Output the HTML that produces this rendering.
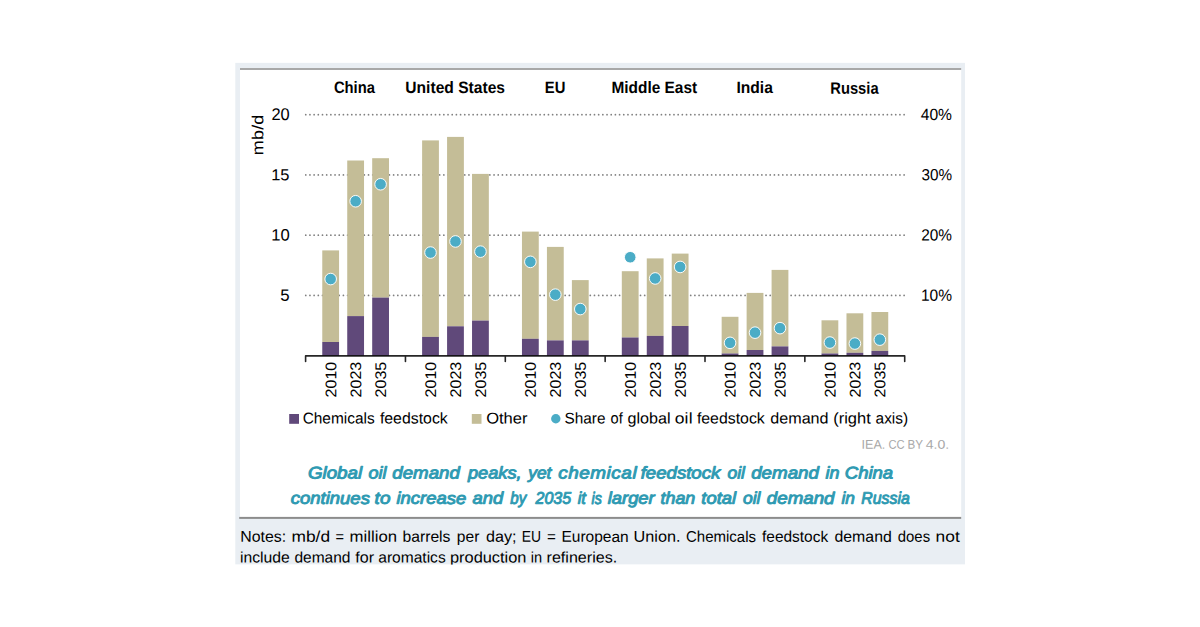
<!DOCTYPE html>
<html><head><meta charset="utf-8"><title>chart</title>
<style>
html,body{margin:0;padding:0;background:#fff;}
body{width:1200px;height:627px;overflow:hidden;position:relative;font-family:"Liberation Sans",sans-serif;}
svg{position:absolute;left:0;top:0;display:block;}
svg text{font-family:"Liberation Sans",sans-serif;}
</style></head><body>
<svg width="1200" height="627" viewBox="0 0 1200 627">
<rect x="235.3" y="62.85" width="729.7" height="501.75" fill="#E9EEF3"/>
<rect x="240" y="68" width="721.2" height="450.5" fill="#ffffff"/>
<rect x="240" y="68" width="721.2" height="2" fill="#a8a8a8"/>
<rect x="239.2" y="516.9" width="722" height="2" fill="#8c8c8c"/>
<line x1="305.75" x2="904.3" y1="295.45" y2="295.45" stroke="#808080" stroke-width="1.75" stroke-linecap="round" stroke-dasharray="0.01 4.1743"/>
<line x1="305.75" x2="904.3" y1="235.20" y2="235.20" stroke="#808080" stroke-width="1.75" stroke-linecap="round" stroke-dasharray="0.01 4.1743"/>
<line x1="305.75" x2="904.3" y1="174.95" y2="174.95" stroke="#808080" stroke-width="1.75" stroke-linecap="round" stroke-dasharray="0.01 4.1743"/>
<line x1="305.75" x2="904.3" y1="114.70" y2="114.70" stroke="#808080" stroke-width="1.75" stroke-linecap="round" stroke-dasharray="0.01 4.1743"/>
<rect x="322.26" y="250.40" width="16.8" height="91.60" fill="#C4BD97"/>
<rect x="322.26" y="342.00" width="16.8" height="13.70" fill="#60497A"/>
<rect x="347.23" y="160.50" width="16.8" height="155.60" fill="#C4BD97"/>
<rect x="347.23" y="316.10" width="16.8" height="39.60" fill="#60497A"/>
<rect x="372.19" y="158.20" width="16.8" height="139.40" fill="#C4BD97"/>
<rect x="372.19" y="297.60" width="16.8" height="58.10" fill="#60497A"/>
<rect x="422.11" y="140.40" width="16.8" height="196.50" fill="#C4BD97"/>
<rect x="422.11" y="336.90" width="16.8" height="18.80" fill="#60497A"/>
<rect x="447.08" y="136.90" width="16.8" height="189.40" fill="#C4BD97"/>
<rect x="447.08" y="326.30" width="16.8" height="29.40" fill="#60497A"/>
<rect x="472.04" y="173.90" width="16.8" height="146.70" fill="#C4BD97"/>
<rect x="472.04" y="320.60" width="16.8" height="35.10" fill="#60497A"/>
<rect x="521.96" y="231.60" width="16.8" height="107.20" fill="#C4BD97"/>
<rect x="521.96" y="338.80" width="16.8" height="16.90" fill="#60497A"/>
<rect x="546.93" y="246.90" width="16.8" height="93.50" fill="#C4BD97"/>
<rect x="546.93" y="340.40" width="16.8" height="15.30" fill="#60497A"/>
<rect x="571.89" y="280.10" width="16.8" height="60.30" fill="#C4BD97"/>
<rect x="571.89" y="340.40" width="16.8" height="15.30" fill="#60497A"/>
<rect x="621.81" y="271.20" width="16.8" height="66.30" fill="#C4BD97"/>
<rect x="621.81" y="337.50" width="16.8" height="18.20" fill="#60497A"/>
<rect x="646.77" y="258.40" width="16.8" height="77.50" fill="#C4BD97"/>
<rect x="646.77" y="335.90" width="16.8" height="19.80" fill="#60497A"/>
<rect x="671.74" y="253.60" width="16.8" height="72.40" fill="#C4BD97"/>
<rect x="671.74" y="326.00" width="16.8" height="29.70" fill="#60497A"/>
<rect x="721.66" y="316.80" width="16.8" height="36.70" fill="#C4BD97"/>
<rect x="721.66" y="353.50" width="16.8" height="2.20" fill="#60497A"/>
<rect x="746.62" y="292.90" width="16.8" height="57.10" fill="#C4BD97"/>
<rect x="746.62" y="350.00" width="16.8" height="5.70" fill="#60497A"/>
<rect x="771.59" y="269.90" width="16.8" height="76.50" fill="#C4BD97"/>
<rect x="771.59" y="346.40" width="16.8" height="9.30" fill="#60497A"/>
<rect x="821.51" y="320.30" width="16.8" height="33.20" fill="#C4BD97"/>
<rect x="821.51" y="353.50" width="16.8" height="2.20" fill="#60497A"/>
<rect x="846.48" y="313.30" width="16.8" height="39.50" fill="#C4BD97"/>
<rect x="846.48" y="352.80" width="16.8" height="2.90" fill="#60497A"/>
<rect x="871.44" y="312.00" width="16.8" height="38.90" fill="#C4BD97"/>
<rect x="871.44" y="350.90" width="16.8" height="4.80" fill="#60497A"/>
<path d="M305.60,361.40 V355.9 H904.70 V361.40 M405.45,355.9 V361.40 M505.30,355.9 V361.40 M605.15,355.9 V361.40 M705.00,355.9 V361.40 M804.85,355.9 V361.40" fill="none" stroke="#000" stroke-opacity="0.85" stroke-width="1.6" stroke-linejoin="round" stroke-linecap="round"/>
<circle cx="330.66" cy="279.05" r="5.8" fill="#4BACC6" stroke="#fff" stroke-opacity="0.95" stroke-width="1.0"/>
<circle cx="355.63" cy="201.25" r="5.8" fill="#4BACC6" stroke="#fff" stroke-opacity="0.95" stroke-width="1.0"/>
<circle cx="380.59" cy="184.25" r="5.8" fill="#4BACC6" stroke="#fff" stroke-opacity="0.95" stroke-width="1.0"/>
<circle cx="430.51" cy="252.55" r="5.8" fill="#4BACC6" stroke="#fff" stroke-opacity="0.95" stroke-width="1.0"/>
<circle cx="455.48" cy="241.45" r="5.8" fill="#4BACC6" stroke="#fff" stroke-opacity="0.95" stroke-width="1.0"/>
<circle cx="480.44" cy="251.65" r="5.8" fill="#4BACC6" stroke="#fff" stroke-opacity="0.95" stroke-width="1.0"/>
<circle cx="530.36" cy="261.85" r="5.8" fill="#4BACC6" stroke="#fff" stroke-opacity="0.95" stroke-width="1.0"/>
<circle cx="555.33" cy="294.65" r="5.8" fill="#4BACC6" stroke="#fff" stroke-opacity="0.95" stroke-width="1.0"/>
<circle cx="580.29" cy="309.05" r="5.8" fill="#4BACC6" stroke="#fff" stroke-opacity="0.95" stroke-width="1.0"/>
<circle cx="630.21" cy="257.25" r="5.8" fill="#4BACC6" stroke="#fff" stroke-opacity="0.95" stroke-width="1.0"/>
<circle cx="655.17" cy="278.45" r="5.8" fill="#4BACC6" stroke="#fff" stroke-opacity="0.95" stroke-width="1.0"/>
<circle cx="680.14" cy="266.95" r="5.8" fill="#4BACC6" stroke="#fff" stroke-opacity="0.95" stroke-width="1.0"/>
<circle cx="730.06" cy="342.85" r="5.8" fill="#4BACC6" stroke="#fff" stroke-opacity="0.95" stroke-width="1.0"/>
<circle cx="755.02" cy="332.65" r="5.8" fill="#4BACC6" stroke="#fff" stroke-opacity="0.95" stroke-width="1.0"/>
<circle cx="779.99" cy="328.15" r="5.8" fill="#4BACC6" stroke="#fff" stroke-opacity="0.95" stroke-width="1.0"/>
<circle cx="829.91" cy="342.55" r="5.8" fill="#4BACC6" stroke="#fff" stroke-opacity="0.95" stroke-width="1.0"/>
<circle cx="854.88" cy="343.55" r="5.8" fill="#4BACC6" stroke="#fff" stroke-opacity="0.95" stroke-width="1.0"/>
<circle cx="879.84" cy="339.65" r="5.8" fill="#4BACC6" stroke="#fff" stroke-opacity="0.95" stroke-width="1.0"/>
<text transform="translate(333.91,92.90) rotate(0.03) scale(0.8942,1)" font-size="16.5" font-weight="bold" font-style="normal" fill="#000">China</text>
<text transform="translate(405.31,92.90) rotate(0.03) scale(0.9463,1)" font-size="16.5" font-weight="bold" font-style="normal" fill="#000">United States</text>
<text transform="translate(544.79,92.90) rotate(0.03) scale(0.8983,1)" font-size="16.5" font-weight="bold" font-style="normal" fill="#000">EU</text>
<text transform="translate(611.50,92.90) rotate(0.03) scale(0.9341,1)" font-size="16.5" font-weight="bold" font-style="normal" fill="#000">Middle East</text>
<text transform="translate(736.49,92.90) rotate(0.03) scale(0.9457,1)" font-size="16.5" font-weight="bold" font-style="normal" fill="#000">India</text>
<text transform="translate(830.29,93.70) rotate(0.03) scale(0.8940,1)" font-size="16.5" font-weight="bold" font-style="normal" fill="#000">Russia</text>
<text transform="translate(271.38,120.00) rotate(0.03) scale(0.9665,1)" font-size="17.0" font-weight="normal" font-style="normal" fill="#000">20</text>
<text transform="translate(271.16,180.25) rotate(0.03) scale(1.0366,1)" font-size="15.9" font-weight="normal" font-style="normal" fill="#000">15</text>
<text transform="translate(271.15,240.50) rotate(0.03) scale(1.0147,1)" font-size="16.4" font-weight="normal" font-style="normal" fill="#000">10</text>
<text transform="translate(280.13,300.75) rotate(0.03) scale(1.0207,1)" font-size="16.5" font-weight="normal" font-style="normal" fill="#000">5</text>
<text transform="translate(920.75,120.00) rotate(0.03) scale(0.9648,1)" font-size="16.2" font-weight="normal" font-style="normal" fill="#000">40%</text>
<text transform="translate(921.43,180.25) rotate(0.03) scale(0.9435,1)" font-size="16.2" font-weight="normal" font-style="normal" fill="#000">30%</text>
<text transform="translate(921.23,240.50) rotate(0.03) scale(0.9497,1)" font-size="16.2" font-weight="normal" font-style="normal" fill="#000">20%</text>
<text transform="translate(920.93,300.75) rotate(0.03) scale(0.9590,1)" font-size="16.2" font-weight="normal" font-style="normal" fill="#000">10%</text>
<text transform="translate(263.2,154) rotate(-90.03) translate(-1.16,0.00) scale(1.1200,1)" font-size="16" font-weight="normal" font-style="normal" fill="#000" letter-spacing="0.196">mb/d</text>
<text transform="translate(336.16,396.6) rotate(-90.03) translate(-0.80,0.00) scale(1.0402,1)" font-size="15.4" font-weight="normal" font-style="normal" fill="#000">2010</text>
<text transform="translate(361.13,396.6) rotate(-90.03) translate(-0.80,0.00) scale(1.0426,1)" font-size="15.4" font-weight="normal" font-style="normal" fill="#000">2023</text>
<text transform="translate(386.09,396.6) rotate(-90.03) translate(-0.80,0.00) scale(1.0414,1)" font-size="15.4" font-weight="normal" font-style="normal" fill="#000">2035</text>
<text transform="translate(436.01,396.6) rotate(-90.03) translate(-0.80,0.00) scale(1.0402,1)" font-size="15.4" font-weight="normal" font-style="normal" fill="#000">2010</text>
<text transform="translate(460.98,396.6) rotate(-90.03) translate(-0.80,0.00) scale(1.0426,1)" font-size="15.4" font-weight="normal" font-style="normal" fill="#000">2023</text>
<text transform="translate(485.94,396.6) rotate(-90.03) translate(-0.80,0.00) scale(1.0414,1)" font-size="15.4" font-weight="normal" font-style="normal" fill="#000">2035</text>
<text transform="translate(535.86,396.6) rotate(-90.03) translate(-0.80,0.00) scale(1.0402,1)" font-size="15.4" font-weight="normal" font-style="normal" fill="#000">2010</text>
<text transform="translate(560.83,396.6) rotate(-90.03) translate(-0.80,0.00) scale(1.0426,1)" font-size="15.4" font-weight="normal" font-style="normal" fill="#000">2023</text>
<text transform="translate(585.79,396.6) rotate(-90.03) translate(-0.80,0.00) scale(1.0414,1)" font-size="15.4" font-weight="normal" font-style="normal" fill="#000">2035</text>
<text transform="translate(635.71,396.6) rotate(-90.03) translate(-0.80,0.00) scale(1.0402,1)" font-size="15.4" font-weight="normal" font-style="normal" fill="#000">2010</text>
<text transform="translate(660.67,396.6) rotate(-90.03) translate(-0.80,0.00) scale(1.0426,1)" font-size="15.4" font-weight="normal" font-style="normal" fill="#000">2023</text>
<text transform="translate(685.64,396.6) rotate(-90.03) translate(-0.80,0.00) scale(1.0414,1)" font-size="15.4" font-weight="normal" font-style="normal" fill="#000">2035</text>
<text transform="translate(735.56,396.6) rotate(-90.03) translate(-0.80,0.00) scale(1.0402,1)" font-size="15.4" font-weight="normal" font-style="normal" fill="#000">2010</text>
<text transform="translate(760.52,396.6) rotate(-90.03) translate(-0.80,0.00) scale(1.0426,1)" font-size="15.4" font-weight="normal" font-style="normal" fill="#000">2023</text>
<text transform="translate(785.49,396.6) rotate(-90.03) translate(-0.80,0.00) scale(1.0414,1)" font-size="15.4" font-weight="normal" font-style="normal" fill="#000">2035</text>
<text transform="translate(835.41,396.6) rotate(-90.03) translate(-0.80,0.00) scale(1.0402,1)" font-size="15.4" font-weight="normal" font-style="normal" fill="#000">2010</text>
<text transform="translate(860.38,396.6) rotate(-90.03) translate(-0.80,0.00) scale(1.0426,1)" font-size="15.4" font-weight="normal" font-style="normal" fill="#000">2023</text>
<text transform="translate(885.34,396.6) rotate(-90.03) translate(-0.80,0.00) scale(1.0414,1)" font-size="15.4" font-weight="normal" font-style="normal" fill="#000">2035</text>
<rect x="289.2" y="414.0" width="9.8" height="9.8" fill="#60497A"/>
<text transform="translate(302.63,423.50) rotate(0.03) scale(0.9904,1)" font-size="15.6" font-weight="normal" font-style="normal" fill="#000">Chemicals</text>
<text transform="translate(379.90,423.50) rotate(0.03) scale(1.0163,1)" font-size="15.6" font-weight="normal" font-style="normal" fill="#000">feedstock</text>
<rect x="471.8" y="414.0" width="9.7" height="9.8" fill="#C4BD97"/>
<text transform="translate(486.15,423.50) rotate(0.03) scale(1.0614,1)" font-size="15.6" font-weight="normal" font-style="normal" fill="#000">Other</text>
<circle cx="555.8" cy="418.7" r="4.7" fill="#4BACC6"/>
<text transform="translate(564.51,423.50) rotate(0.03) scale(0.9839,1)" font-size="15.6" font-weight="normal" font-style="normal" fill="#000">Share</text>
<text transform="translate(610.62,423.50) rotate(0.03) scale(0.9353,1)" font-size="15.6" font-weight="normal" font-style="normal" fill="#000">of</text>
<text transform="translate(627.45,423.50) rotate(0.03) scale(1.0346,1)" font-size="15.6" font-weight="normal" font-style="normal" fill="#000">global</text>
<text transform="translate(674.70,423.50) rotate(0.03) scale(1.1200,1)" font-size="15.6" font-weight="normal" font-style="normal" fill="#000" letter-spacing="0.162">oil</text>
<text transform="translate(696.90,423.50) rotate(0.03) scale(1.0178,1)" font-size="15.6" font-weight="normal" font-style="normal" fill="#000">feedstock</text>
<text transform="translate(770.25,423.50) rotate(0.03) scale(1.0355,1)" font-size="15.6" font-weight="normal" font-style="normal" fill="#000">demand</text>
<text transform="translate(833.21,423.50) rotate(0.03) scale(1.0575,1)" font-size="15.6" font-weight="normal" font-style="normal" fill="#000">(right</text>
<text transform="translate(875.54,423.50) rotate(0.03) scale(0.9899,1)" font-size="15.6" font-weight="normal" font-style="normal" fill="#000">axis)</text>
<text transform="translate(861.46,448.65) rotate(0.03) scale(0.9946,1)" font-size="12.7" font-weight="normal" font-style="normal" fill="#a8a8a8">IEA.</text>
<text transform="translate(888.44,448.65) rotate(0.03) scale(0.8875,1)" font-size="12.7" font-weight="normal" font-style="normal" fill="#a8a8a8">CC</text>
<text transform="translate(907.47,448.65) rotate(0.03) scale(0.9136,1)" font-size="12.7" font-weight="normal" font-style="normal" fill="#a8a8a8">BY</text>
<text transform="translate(925.78,448.65) rotate(0.03) scale(1.1089,1)" font-size="12.7" font-weight="normal" font-style="normal" fill="#a8a8a8">4.0.</text>
<text transform="translate(307.88,478.40) rotate(0.03) scale(1.1101,1)" font-size="16.9" font-weight="normal" font-style="italic" fill="#2E9AB2" stroke="#2E9AB2" stroke-width="0.95" stroke-linejoin="round">Global</text>
<text transform="translate(368.59,478.40) rotate(0.03) scale(1.0669,1)" font-size="16.9" font-weight="normal" font-style="italic" fill="#2E9AB2" stroke="#2E9AB2" stroke-width="0.95" stroke-linejoin="round">oil</text>
<text transform="translate(392.37,478.40) rotate(0.03) scale(1.1047,1)" font-size="16.9" font-weight="normal" font-style="italic" fill="#2E9AB2" stroke="#2E9AB2" stroke-width="0.95" stroke-linejoin="round">demand</text>
<text transform="translate(467.93,478.40) rotate(0.03) scale(1.0788,1)" font-size="16.9" font-weight="normal" font-style="italic" fill="#2E9AB2" stroke="#2E9AB2" stroke-width="0.95" stroke-linejoin="round">peaks,</text>
<text transform="translate(528.18,478.40) rotate(0.03) scale(1.0319,1)" font-size="16.9" font-weight="normal" font-style="italic" fill="#2E9AB2" stroke="#2E9AB2" stroke-width="0.95" stroke-linejoin="round">yet</text>
<text transform="translate(558.16,478.40) rotate(0.03) scale(1.1200,1)" font-size="16.9" font-weight="normal" font-style="italic" fill="#2E9AB2" letter-spacing="0.481" stroke="#2E9AB2" stroke-width="0.95" stroke-linejoin="round">chemical</text>
<text transform="translate(640.67,478.40) rotate(0.03) scale(1.1027,1)" font-size="16.9" font-weight="normal" font-style="italic" fill="#2E9AB2" stroke="#2E9AB2" stroke-width="0.95" stroke-linejoin="round">feedstock</text>
<text transform="translate(727.41,478.40) rotate(0.03) scale(1.0370,1)" font-size="16.9" font-weight="normal" font-style="italic" fill="#2E9AB2" stroke="#2E9AB2" stroke-width="0.95" stroke-linejoin="round">oil</text>
<text transform="translate(751.16,478.40) rotate(0.03) scale(1.1113,1)" font-size="16.9" font-weight="normal" font-style="italic" fill="#2E9AB2" stroke="#2E9AB2" stroke-width="0.95" stroke-linejoin="round">demand</text>
<text transform="translate(825.51,478.40) rotate(0.03) scale(1.0643,1)" font-size="16.9" font-weight="normal" font-style="italic" fill="#2E9AB2" stroke="#2E9AB2" stroke-width="0.95" stroke-linejoin="round">in</text>
<text transform="translate(844.76,478.40) rotate(0.03) scale(1.0956,1)" font-size="16.9" font-weight="normal" font-style="italic" fill="#2E9AB2" stroke="#2E9AB2" stroke-width="0.95" stroke-linejoin="round">China</text>
<text transform="translate(290.67,503.85) rotate(0.03) scale(1.0953,1)" font-size="16.9" font-weight="normal" font-style="italic" fill="#2E9AB2" stroke="#2E9AB2" stroke-width="0.95" stroke-linejoin="round">continues</text>
<text transform="translate(374.62,503.85) rotate(0.03) scale(1.1200,1)" font-size="16.9" font-weight="normal" font-style="italic" fill="#2E9AB2" letter-spacing="0.011" stroke="#2E9AB2" stroke-width="0.95" stroke-linejoin="round">to</text>
<text transform="translate(396.50,503.85) rotate(0.03) scale(1.0914,1)" font-size="16.9" font-weight="normal" font-style="italic" fill="#2E9AB2" stroke="#2E9AB2" stroke-width="0.95" stroke-linejoin="round">increase</text>
<text transform="translate(472.61,503.85) rotate(0.03) scale(1.0863,1)" font-size="16.9" font-weight="normal" font-style="italic" fill="#2E9AB2" stroke="#2E9AB2" stroke-width="0.95" stroke-linejoin="round">and</text>
<text transform="translate(510.29,503.85) rotate(0.03) scale(0.8943,1)" font-size="16.9" font-weight="normal" font-style="italic" fill="#2E9AB2" stroke="#2E9AB2" stroke-width="0.95" stroke-linejoin="round">by</text>
<text transform="translate(535.59,503.85) rotate(0.03) scale(0.9465,1)" font-size="16.9" font-weight="normal" font-style="italic" fill="#2E9AB2" stroke="#2E9AB2" stroke-width="0.95" stroke-linejoin="round">2035</text>
<text transform="translate(577.63,503.85) rotate(0.03) scale(0.9729,1)" font-size="16.9" font-weight="normal" font-style="italic" fill="#2E9AB2" stroke="#2E9AB2" stroke-width="0.95" stroke-linejoin="round">it</text>
<text transform="translate(591.56,503.85) rotate(0.03) scale(0.8392,1)" font-size="16.9" font-weight="normal" font-style="italic" fill="#2E9AB2" stroke="#2E9AB2" stroke-width="0.95" stroke-linejoin="round">is</text>
<text transform="translate(607.70,503.85) rotate(0.03) scale(1.0881,1)" font-size="16.9" font-weight="normal" font-style="italic" fill="#2E9AB2" stroke="#2E9AB2" stroke-width="0.95" stroke-linejoin="round">larger</text>
<text transform="translate(660.47,503.85) rotate(0.03) scale(1.0592,1)" font-size="16.9" font-weight="normal" font-style="italic" fill="#2E9AB2" stroke="#2E9AB2" stroke-width="0.95" stroke-linejoin="round">than</text>
<text transform="translate(701.35,503.85) rotate(0.03) scale(1.0884,1)" font-size="16.9" font-weight="normal" font-style="italic" fill="#2E9AB2" stroke="#2E9AB2" stroke-width="0.95" stroke-linejoin="round">total</text>
<text transform="translate(742.91,503.85) rotate(0.03) scale(1.0370,1)" font-size="16.9" font-weight="normal" font-style="italic" fill="#2E9AB2" stroke="#2E9AB2" stroke-width="0.95" stroke-linejoin="round">oil</text>
<text transform="translate(766.87,503.85) rotate(0.03) scale(1.1080,1)" font-size="16.9" font-weight="normal" font-style="italic" fill="#2E9AB2" stroke="#2E9AB2" stroke-width="0.95" stroke-linejoin="round">demand</text>
<text transform="translate(841.52,503.85) rotate(0.03) scale(1.0232,1)" font-size="16.9" font-weight="normal" font-style="italic" fill="#2E9AB2" stroke="#2E9AB2" stroke-width="0.95" stroke-linejoin="round">in</text>
<text transform="translate(861.30,503.85) rotate(0.03) scale(0.9382,1)" font-size="16.9" font-weight="normal" font-style="italic" fill="#2E9AB2" stroke="#2E9AB2" stroke-width="0.95" stroke-linejoin="round">Russia</text>
<text transform="translate(240.23,541.85) rotate(0.03) scale(1.0247,1)" font-size="15.5" font-weight="normal" font-style="normal" fill="#000">Notes:</text>
<text transform="translate(291.47,541.85) rotate(0.03) scale(1.1200,1)" font-size="15.5" font-weight="normal" font-style="normal" fill="#000" letter-spacing="0.009">mb/d</text>
<text transform="translate(335.51,541.85) rotate(0.03) scale(0.9396,1)" font-size="15.5" font-weight="normal" font-style="normal" fill="#000">=</text>
<text transform="translate(349.61,541.85) rotate(0.03) scale(1.0804,1)" font-size="15.5" font-weight="normal" font-style="normal" fill="#000">million</text>
<text transform="translate(402.52,541.85) rotate(0.03) scale(1.0113,1)" font-size="15.5" font-weight="normal" font-style="normal" fill="#000">barrels</text>
<text transform="translate(456.83,541.85) rotate(0.03) scale(1.0049,1)" font-size="15.5" font-weight="normal" font-style="normal" fill="#000">per</text>
<text transform="translate(486.05,541.85) rotate(0.03) scale(1.0432,1)" font-size="15.5" font-weight="normal" font-style="normal" fill="#000">day;</text>
<text transform="translate(521.69,541.85) rotate(0.03) scale(0.8985,1)" font-size="15.5" font-weight="normal" font-style="normal" fill="#000">EU</text>
<text transform="translate(547.08,541.85) rotate(0.03) scale(0.9793,1)" font-size="15.5" font-weight="normal" font-style="normal" fill="#000">=</text>
<text transform="translate(561.46,541.85) rotate(0.03) scale(1.0003,1)" font-size="15.5" font-weight="normal" font-style="normal" fill="#000">European</text>
<text transform="translate(633.58,541.85) rotate(0.03) scale(1.0488,1)" font-size="15.5" font-weight="normal" font-style="normal" fill="#000">Union.</text>
<text transform="translate(685.95,541.85) rotate(0.03) scale(0.9700,1)" font-size="15.5" font-weight="normal" font-style="normal" fill="#000">Chemicals</text>
<text transform="translate(762.01,541.85) rotate(0.03) scale(0.9972,1)" font-size="15.5" font-weight="normal" font-style="normal" fill="#000">feedstock</text>
<text transform="translate(834.47,541.85) rotate(0.03) scale(1.0238,1)" font-size="15.5" font-weight="normal" font-style="normal" fill="#000">demand</text>
<text transform="translate(897.80,541.85) rotate(0.03) scale(0.9620,1)" font-size="15.5" font-weight="normal" font-style="normal" fill="#000">does</text>
<text transform="translate(935.57,541.85) rotate(0.03) scale(1.1200,1)" font-size="15.5" font-weight="normal" font-style="normal" fill="#000" letter-spacing="0.038">not</text>
<text transform="translate(239.88,562.40) rotate(0.03) scale(1.0295,1)" font-size="15.3" font-weight="normal" font-style="normal" fill="#000">include</text>
<text transform="translate(294.38,562.40) rotate(0.03) scale(1.0167,1)" font-size="15.3" font-weight="normal" font-style="normal" fill="#000">demand</text>
<text transform="translate(355.30,562.40) rotate(0.03) scale(1.0492,1)" font-size="15.3" font-weight="normal" font-style="normal" fill="#000">for</text>
<text transform="translate(378.24,562.40) rotate(0.03) scale(1.0178,1)" font-size="15.3" font-weight="normal" font-style="normal" fill="#000">aromatics</text>
<text transform="translate(449.98,562.40) rotate(0.03) scale(1.0713,1)" font-size="15.3" font-weight="normal" font-style="normal" fill="#000">production</text>
<text transform="translate(530.85,562.40) rotate(0.03) scale(0.9553,1)" font-size="15.3" font-weight="normal" font-style="normal" fill="#000">in</text>
<text transform="translate(546.55,562.40) rotate(0.03) scale(1.0525,1)" font-size="15.3" font-weight="normal" font-style="normal" fill="#000">refineries.</text>
<rect x="230" y="564.6" width="740" height="10" fill="#ffffff"/>
</svg></body></html>
